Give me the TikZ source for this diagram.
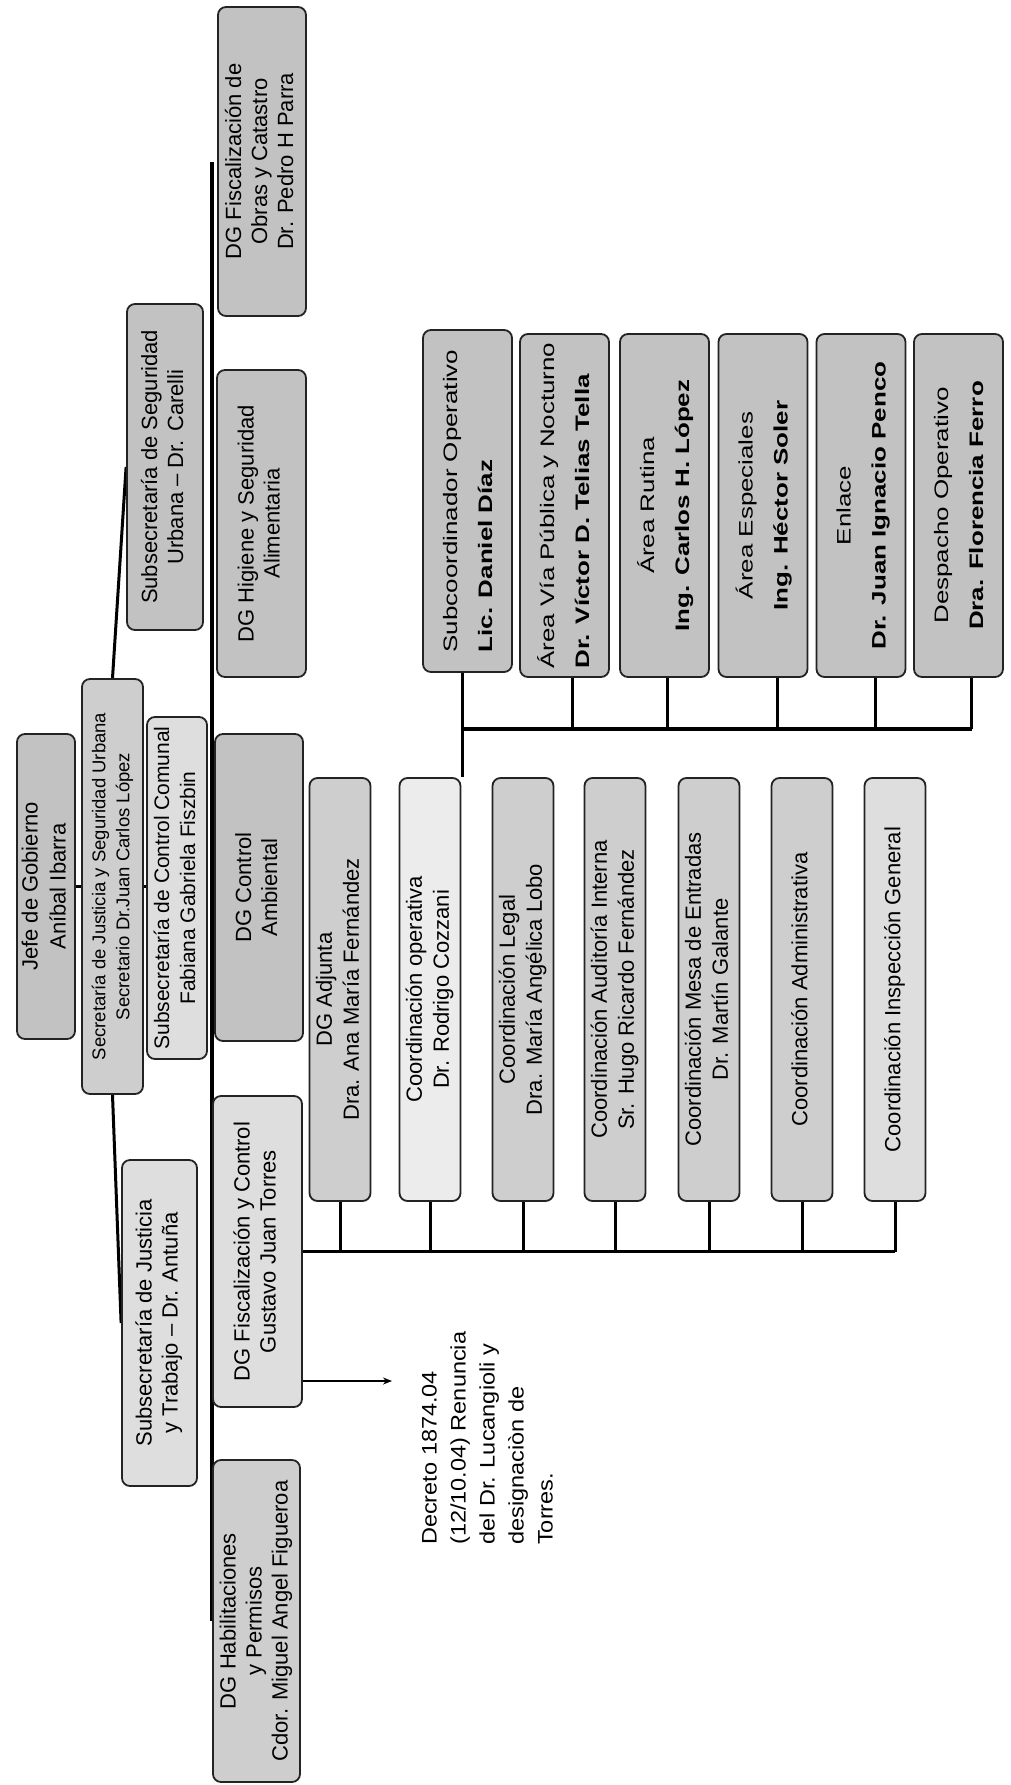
\documentclass[tikz,border=0pt]{standalone}
\usepackage{fontspec}
\setmainfont{Liberation Sans}
\usepackage{graphicx}
\usetikzlibrary{arrows.meta,calc}
\definecolor{gdark}{RGB}{194,194,194}
\definecolor{gmid}{RGB}{206,206,206}
\definecolor{glight}{RGB}{222,222,222}
\definecolor{gpale}{RGB}{236,236,236}
\definecolor{edgecol}{RGB}{35,35,35}
\newcommand\rtext[2][c]{\rotatebox{90}{\begin{tabular}{@{}#1@{}}#2\end{tabular}}}
\newcommand\rstext[3][c]{\rotatebox{90}{\scalebox{#2}[1]{\begin{tabular}{@{}#1@{}}#3\end{tabular}}}}
\pgfdeclarelayer{bg}
\pgfsetlayers{bg,main}
\begin{document}
\begin{tikzpicture}[x=1pt,y=-1pt,
  orgbox/.style={draw=edgecol, line width=1.8pt, rounded corners=8pt, fill=gdark, inner sep=0pt, font=\fontsize{22}{26}\selectfont},
  coordbox/.style={orgbox, minimum width=61pt, minimum height=423pt, fill=gmid, font=\fontsize{22}{27}\selectfont},
  areabox/.style={orgbox, minimum width=89pt, minimum height=343pt, font=\fontsize{19.5}{35}\selectfont},
  link/.style={line width=3.5pt, draw=black},
  stub/.style={line width=3pt, draw=black}]
\useasboundingbox (0,0) rectangle (1011,1785);

% top level
\node[orgbox, minimum width=58pt, minimum height=305pt, font=\fontsize{22}{28}\selectfont] (jefe) at (46,886.5) {\rtext{Jefe de Gobierno\\Aníbal Ibarra}};
\node[orgbox, fill=gmid, minimum width=61pt, minimum height=415pt, font=\fontsize{18.5}{24}\selectfont] (secretaria) at (112.5,886.5) {\rtext{Secretaría de Justicia y Seguridad Urbana\\Secretario Dr.Juan Carlos López}};
\node[orgbox, fill=glight, minimum width=60pt, minimum height=342pt, font=\fontsize{21}{26}\selectfont] (comunal) at (177,888) {\rtext{Subsecretaría de Control Comunal\\Fabiana Gabriela Fiszbin}};
\node[orgbox, minimum width=76pt, minimum height=326pt] (urbana) at (165,467) {\rtext{Subsecretaría de Seguridad\\Urbana – Dr. Carelli}};
\node[orgbox, fill=glight, minimum width=75pt, minimum height=326pt] (justicia) at (159.5,1323) {\rtext{Subsecretaría de Justicia\\y Trabajo – Dr. Antuña}};

% direcciones generales
\node[orgbox, minimum width=88pt, minimum height=309pt] (obras) at (262,161.5) {\rtext{DG Fiscalización de\\Obras y Catastro\\Dr. Pedro H Parra}};
\node[orgbox, minimum width=89pt, minimum height=307pt] (higiene) at (261.5,523.5) {\rtext{DG Higiene y Seguridad\\Alimentaria}};
\node[orgbox, minimum width=88pt, minimum height=307pt] (ambiental) at (259,887.5) {\rtext{DG Control\\Ambiental}};
\node[orgbox, fill=glight, minimum width=89pt, minimum height=311pt] (fiscal) at (257.5,1251.5) {\rtext{DG Fiscalización y Control\\Gustavo Juan Torres}};
\node[orgbox, fill=gmid, minimum width=87pt, minimum height=322pt] (habil) at (256.5,1621) {\rtext{DG Habilitaciones\\y Permisos\\Cdor. Miguel Angel Figueroa}};

% coordinaciones
\node[coordbox] (adjunta) at (340,989.5) {\rtext{DG Adjunta\\Dra. Ana María Fernández}};
\node[coordbox, fill=gpale] (coordop) at (430,989.5) {\rtext{Coordinación operativa\\Dr. Rodrigo Cozzani}};
\node[coordbox] (legal) at (523,989.5) {\rtext{Coordinación Legal\\Dra. María Angélica Lobo}};
\node[coordbox] (auditoria) at (615,989.5) {\rtext{Coordinación Auditoría Interna\\Sr. Hugo Ricardo Fernández}};
\node[coordbox] (mesa) at (709,989.5) {\rtext{Coordinación Mesa de Entradas\\Dr. Martín Galante}};
\node[coordbox] (admin) at (802,989.5) {\rtext{Coordinación Administrativa}};
\node[coordbox, fill=glight] (inspeccion) at (895,989.5) {\rtext{Coordinación Inspección General}};

% areas
\node[areabox, minimum height=342pt] (subcoord) at (467.5,501) {\rstext[l]{1.33}{Subcoordinador Operativo\\\textbf{Lic. Daniel Díaz}}};
\node[areabox] (via) at (564.5,505.5) {\rstext[l]{1.33}{Área Vía Pública y Nocturno\\\textbf{Dr. Víctor D. Telias Tella}}};
\node[areabox] (rutina) at (664.5,505.5) {\rstext{1.33}{Área Rutina\\\textbf{Ing. Carlos H. López}}};
\node[areabox] (especiales) at (763,505.5) {\rstext{1.33}{Área Especiales\\\textbf{Ing. Héctor Soler}}};
\node[areabox] (enlace) at (861,505.5) {\rstext{1.33}{Enlace\\\textbf{Dr. Juan Ignacio Penco}}};
\node[areabox] (despacho) at (958.5,505.5) {\rstext{1.33}{Despacho Operativo\\\textbf{Dra. Florencia Ferro}}};

% note
\node[inner sep=0pt, anchor=south west, font=\fontsize{21}{29}\selectfont] (decreto) at (416,1545) {\rstext[l]{1.12}{Decreto 1874.04\\(12/10.04) Renuncia\\del Dr. Lucangioli y\\designaciòn de\\Torres.}};

\coordinate (bx) at (212,0);
\coordinate (ub) at (0,729);
\coordinate (ah) at (392,1381);
\coordinate (sc) at ($(subcoord.south)+(-5,0)$);
\coordinate (sv) at ($(via.south)+(8,0)$);
\coordinate (sr) at ($(rutina.south)+(3,0)$);
\coordinate (se) at ($(especiales.south)+(14,0)$);
\coordinate (sn) at ($(enlace.south)+(14,0)$);
\coordinate (sd) at ($(despacho.south)+(13,0)$);

\begin{pgfonlayer}{bg}
\draw[link] (obras.west -| bx) -- (habil.west -| bx);
\draw[link] (jefe.east) -- (secretaria.west);
\draw[link] (secretaria.east) -- (secretaria.east -| comunal.west);
\draw[stub] (secretaria.north) -- (urbana.west);
\draw[stub] (secretaria.south) -- (justicia.west);
% lower bus
\draw[link] (fiscal.east) -- (fiscal.east -| inspeccion.south);
\foreach \n in {adjunta,coordop,legal,auditoria,mesa,admin,inspeccion}
  \draw[stub] (\n.south) -- (\n.south |- fiscal.east);
% upper bus
\draw[link] (sc) -- (sc |- coordop.north);
\draw[link] (sc |- ub) -- (sd |- ub);
\draw[stub] (sv) -- (sv |- ub);
\draw[stub] (sr) -- (sr |- ub);
\draw[stub] (se) -- (se |- ub);
\draw[stub] (sn) -- (sn |- ub);
\draw[stub] (sd) -- (sd |- ub);
% arrow to note
\draw[line width=1.3pt, -{Stealth[length=9pt,width=7pt]}] (fiscal.east |- ah) -- (ah);
\end{pgfonlayer}
\end{tikzpicture}
\end{document}
